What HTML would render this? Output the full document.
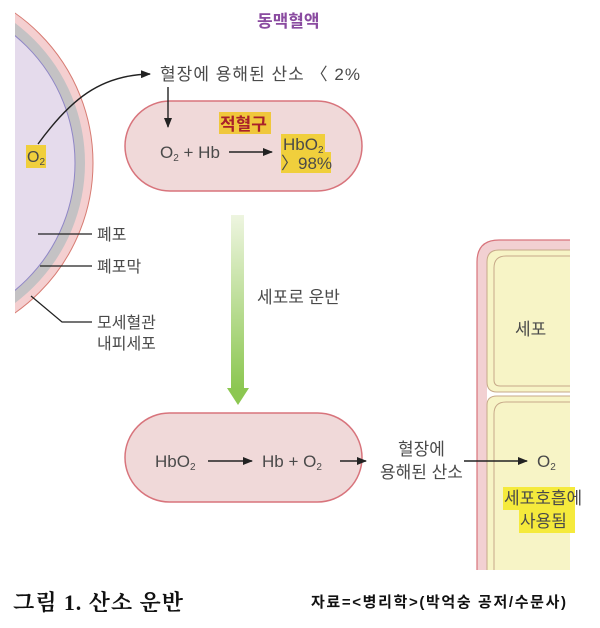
<!DOCTYPE html>
<html><head><meta charset="utf-8"><style>
html,body{margin:0;padding:0;background:#fff;width:600px;height:628px;overflow:hidden}
text{font-family:"Liberation Sans","Noto Sans CJK KR",sans-serif;fill:#4a4a4a}
</style></head><body>
<svg width="600" height="628" viewBox="0 0 600 628" xmlns="http://www.w3.org/2000/svg">
<defs>
<clipPath id="cl"><rect x="15" y="0" width="600" height="628"/></clipPath>
<clipPath id="cr"><rect x="0" y="0" width="570" height="570"/></clipPath>
<linearGradient id="gg" x1="0" y1="0" x2="0" y2="1"><stop offset="0" stop-color="#eef5e0"/><stop offset="1" stop-color="#8cc751"/></linearGradient>
<marker id="ah" markerWidth="10" markerHeight="8" refX="9" refY="4" orient="auto" markerUnits="userSpaceOnUse"><path d="M0,0 L10,4 L0,8 Z" fill="#222"/></marker>
</defs>
<g clip-path="url(#cl)">
<circle cx="-90" cy="163" r="183" fill="#f4cfd0" stroke="#d77b72" stroke-width="1"/>
<circle cx="-90" cy="163" r="175" fill="#c4c2c4"/>
<circle cx="-90" cy="163" r="165" fill="#e5dbec" stroke="#8f86c6" stroke-width="1"/>
</g>
<rect x="26" y="145" width="20" height="23" fill="#f0cf3c"/>
<text x="27" y="162" font-size="16">O<tspan font-size="10" dy="3">2</tspan></text>
<path d="M38,144 C70,100 100,75 150,74" fill="none" stroke="#222" stroke-width="1.4" marker-end="url(#ah)"/>
<text x="257" y="27" font-size="17" font-weight="bold" style="fill:#8a4ba0">동맥혈액</text>
<text x="160" y="80" font-size="17" textLength="200">혈장에 용해된 산소  〈 2%</text>
<rect x="125" y="101" width="237" height="90" rx="45" fill="#f0d9d9" stroke="#d8747c" stroke-width="1.5"/>
<line x1="168" y1="87" x2="168" y2="127" stroke="#222" stroke-width="1.4" marker-end="url(#ah)"/>
<rect x="219" y="112" width="52" height="22" fill="#f0c73c"/>
<text x="220" y="130" font-size="17" font-weight="bold" style="fill:#a9202a">적혈구</text>
<text x="160" y="158" font-size="17">O<tspan font-size="10" dy="3">2</tspan><tspan dy="-3"> + Hb</tspan></text>
<line x1="229" y1="152" x2="272" y2="152" stroke="#222" stroke-width="1.4" marker-end="url(#ah)"/>
<rect x="281" y="134" width="44" height="18" fill="#f0cf3c"/>
<rect x="281" y="152" width="50" height="21" fill="#f0cf3c"/>
<text x="283" y="150" font-size="17">HbO<tspan font-size="10" dy="3">2</tspan></text>
<text x="281" y="169" font-size="17">〉98%</text>
<line x1="38" y1="234" x2="92" y2="234" stroke="#222" stroke-width="1.2"/>
<text x="97" y="240" font-size="16">폐포</text>
<line x1="40" y1="266" x2="92" y2="266" stroke="#222" stroke-width="1.2"/>
<text x="97" y="272" font-size="16">폐포막</text>
<polyline points="31,296 62,322 92,322" fill="none" stroke="#222" stroke-width="1.2"/>
<text x="97" y="328" font-size="16">모세혈관</text>
<text x="97" y="349" font-size="16">내피세포</text>
<rect x="231" y="215" width="13" height="174" fill="url(#gg)"/>
<polygon points="227,388 249,388 238,405" fill="#8cc751"/>
<text x="257" y="303" font-size="17">세포로 운반</text>
<rect x="125" y="413" width="237" height="89" rx="44.5" fill="#f0d9d9" stroke="#d8747c" stroke-width="1.5"/>
<text x="155" y="467" font-size="17">HbO<tspan font-size="10" dy="3">2</tspan></text>
<line x1="208" y1="461" x2="252" y2="461" stroke="#222" stroke-width="1.4" marker-end="url(#ah)"/>
<text x="262" y="467" font-size="17">Hb + O<tspan font-size="10" dy="3">2</tspan></text>
<line x1="340" y1="461" x2="366" y2="461" stroke="#222" stroke-width="1.4" marker-end="url(#ah)"/>
<text x="398" y="455" font-size="17">혈장에</text>
<text x="380" y="478" font-size="17">용해된 산소</text>
<g clip-path="url(#cr)">
<path d="M477,580 L477,262 Q477,240 499,240 L580,240 L580,580 Z" fill="#f2d0d2" stroke="#d8747c" stroke-width="1.2"/>
<path d="M487,580 L487,262 Q487,250 499,250 L580,250 L580,580 Z" fill="#fff"/>
<path d="M487,382 L487,262 Q487,250 499,250 L580,250 L580,392 L497,392 Q487,392 487,382 Z" fill="#f7f4c6" stroke="#c7a989" stroke-width="1"/>
<path d="M494,380 L494,268 Q494,256 506,256 L580,256 L580,386 L500,386 Q494,386 494,380 Z" fill="none" stroke="#c7a989" stroke-width="1"/>
<path d="M487,580 L487,405 Q487,396 497,396 L580,396 L580,580 Z" fill="#f7f4c6" stroke="#c7a989" stroke-width="1"/>
<path d="M494,580 L494,414 Q494,402 506,402 L580,402" fill="none" stroke="#c7a989" stroke-width="1"/>
</g>
<text x="515" y="335" font-size="17">세포</text>
<line x1="464" y1="461" x2="527" y2="461" stroke="#222" stroke-width="1.4" marker-end="url(#ah)"/>
<text x="537" y="467" font-size="17">O<tspan font-size="10" dy="3">2</tspan></text>
<rect x="503" y="487" width="72" height="23" fill="#f5ea3c"/>
<rect x="519" y="510" width="56" height="23" fill="#f5ea3c"/>
<text x="504" y="504" font-size="17">세포호흡에</text>
<text x="520" y="527" font-size="17">사용됨</text>
<text x="13" y="610" font-size="22" font-weight="bold" textLength="170" style="fill:#111;font-family:'Liberation Serif','Noto Serif CJK SC',serif">그림 1. 산소 운반</text>
<text x="311" y="607" font-size="15" font-weight="bold" textLength="255" style="fill:#111">자료=&lt;병리학&gt;(박억숭 공저/수문사)</text>
</svg>
</body></html>
